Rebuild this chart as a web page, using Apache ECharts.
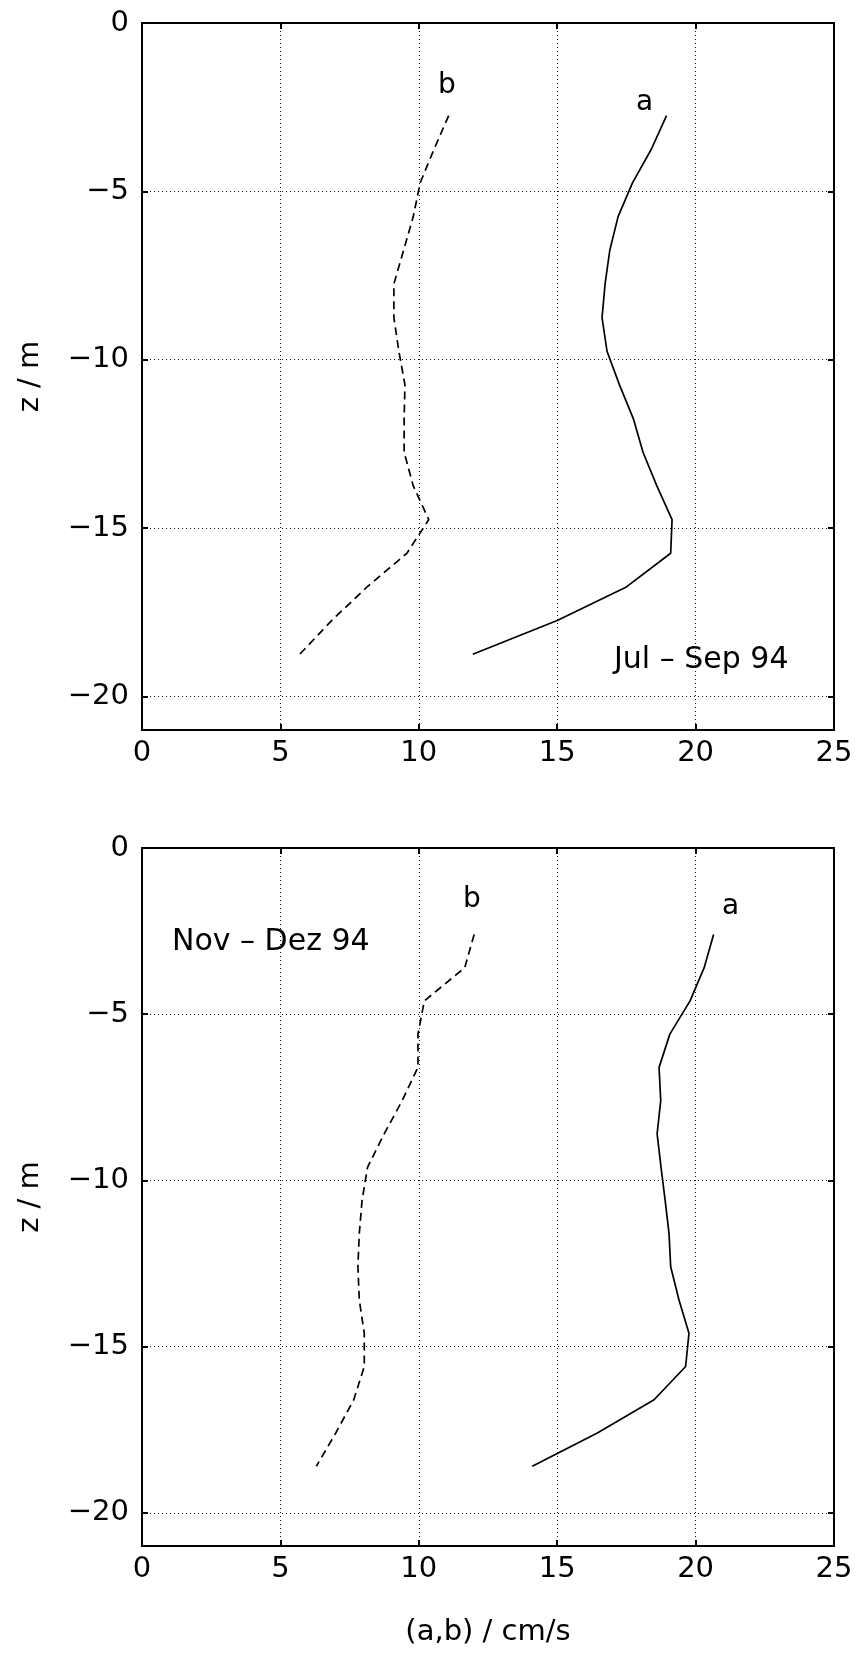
<!DOCTYPE html>
<html><head><meta charset="utf-8">
<script src="https://cdn.jsdelivr.net/npm/echarts@6/dist/echarts.min.js"></script>
<style>html,body{margin:0;padding:0;background:#fff}#c{width:857px;height:1654px}</style>
</head><body><div id="c"></div>
<script>
// Top panel (Jul - Sep 94)
const depthTop = [-2.75,-3.75,-4.75,-5.75,-6.75,-7.75,-8.75,-9.75,-10.75,-11.75,-12.75,-13.75,-14.75,-15.75,-16.75,-17.75,-18.75];
const aTop = [18.95,18.4,17.72,17.2,16.9,16.73,16.62,16.8,17.25,17.75,18.1,18.6,19.15,19.1,17.5,15.0,11.95];
const bTop = [11.08,10.55,10.05,9.8,9.45,9.1,9.1,9.28,9.5,9.47,9.47,9.8,10.36,9.57,8.13,6.85,5.7];
// Bottom panel (Nov - Dez 94)
const depthBot = [-2.6,-3.6,-4.6,-5.6,-6.6,-7.6,-8.6,-9.6,-10.6,-11.6,-12.6,-13.6,-14.6,-15.6,-16.6,-17.6,-18.6];
const aBot = [20.65,20.31,19.8,19.07,18.68,18.74,18.61,18.75,18.9,19.04,19.1,19.4,19.76,19.64,18.5,16.45,14.1];
const bBot = [12.0,11.66,10.2,9.97,9.97,9.4,8.75,8.15,7.95,7.85,7.8,7.85,8.03,8.03,7.65,7.0,6.3];
const xTicks = [0,5,10,15,20,25];
const panelLabels = ['Jul \u2013 Sep 94','Nov \u2013 Dez 94'];
const xTitle = '(a,b) / cm/s';
const yTitle = 'z / m';

const FONT = 'DejaVu Sans';
const FS = 29;
const grids = [
  {left:142, top:23, width:692, height:707},
  {left:142, top:848, width:692, height:698}
];
const dotted = {show:true, lineStyle:{color:'#111', width:1, type:[1,3]}};
const xAxes = [], yAxes = [];
grids.forEach((g,i)=>{
  xAxes.push({gridIndex:i, type:'value', min:0, max:25, interval:5, position:'bottom',
    axisLine:{show:true,onZero:false,lineStyle:{color:'#000',width:2}},
    axisTick:{show:true,inside:true,length:6,lineStyle:{color:'#000',width:2}},
    axisLabel:{show:true,margin:9,color:'#000',fontFamily:FONT,fontSize:FS,
      formatter:v=>xTicks.includes(v)?String(v):''},
    splitLine:dotted,
    name: i===1?xTitle:'', nameLocation:'middle', nameGap:72,
    nameTextStyle:{color:'#000',fontFamily:FONT,fontSize:FS}});
  xAxes.push({gridIndex:i, type:'value', min:0, max:25, interval:5, position:'top',
    axisLine:{show:true,onZero:false,lineStyle:{color:'#000',width:2}},
    axisTick:{show:true,inside:true,length:6,lineStyle:{color:'#000',width:2}},
    axisLabel:{show:false}, splitLine:{show:false}});
  yAxes.push({gridIndex:i, type:'value', min:-21, max:0, position:'left',
    axisLine:{show:true,onZero:false,lineStyle:{color:'#000',width:2}},
    axisTick:{show:true,inside:true,length:6,lineStyle:{color:'#000',width:2}},
    axisLabel:{show:true,margin:13,color:'#000',fontFamily:FONT,fontSize:FS,
      formatter:v=>(v%5===0)?(v<0?'\u2212'+Math.abs(v):String(v)):''},
    splitLine:dotted,
    name:yTitle, nameLocation:'middle', nameRotate:90, nameGap:97,
    nameTextStyle:{color:'#000',fontFamily:FONT,fontSize:FS}});
  yAxes.push({gridIndex:i, type:'value', min:-21, max:0, position:'right',
    axisLine:{show:true,onZero:false,lineStyle:{color:'#000',width:2}},
    axisTick:{show:true,inside:true,length:6,lineStyle:{color:'#000',width:2}},
    axisLabel:{show:false}, splitLine:{show:false}});
});

function mk(xs, ds){ return xs.map((v,k)=>[v, ds[k]]); }
const series = [
  {type:'line', xAxisIndex:0, yAxisIndex:0, data:mk(aTop,depthTop), showSymbol:false, symbol:'none',
   lineStyle:{color:'#000',width:1.7,type:'solid'}},
  {type:'line', xAxisIndex:0, yAxisIndex:0, data:mk(bTop,depthTop), showSymbol:false, symbol:'none',
   lineStyle:{color:'#000',width:1.7,type:[8,5]}},
  {type:'line', xAxisIndex:2, yAxisIndex:2, data:mk(aBot,depthBot), showSymbol:false, symbol:'none',
   lineStyle:{color:'#000',width:1.7,type:'solid'}},
  {type:'line', xAxisIndex:2, yAxisIndex:2, data:mk(bBot,depthBot), showSymbol:false, symbol:'none',
   lineStyle:{color:'#000',width:1.7,type:[8,5]}}
];

function txt(t,x,y,fs){ return {type:'text', x:x, y:y, style:{text:t, fill:'#000', font: fs+'px "'+FONT+'"', textAlign:'left', textVerticalAlign:'middle'}}; }
const graphic = [
  txt('b',438,86,28), txt('a',636,103,28), txt(panelLabels[0],614,660,30),
  txt('b',463,900,28), txt('a',722,907,28), txt(panelLabels[1],172,942,30)
];

const chart = echarts.init(document.getElementById('c'), null, {renderer:'canvas'});
chart.setOption({
  backgroundColor:'#fff', animation:false,
  grid: grids, xAxis:xAxes, yAxis:yAxes, series:series, graphic:graphic
});
</script></body></html>
